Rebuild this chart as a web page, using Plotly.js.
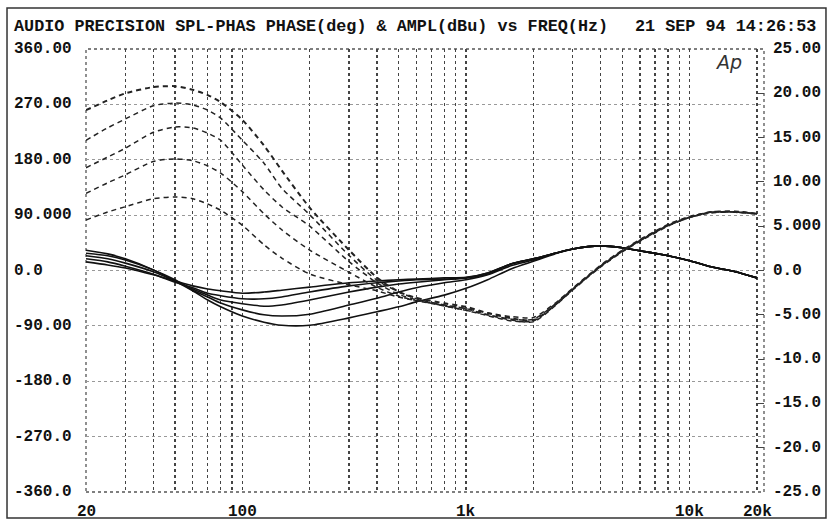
<!DOCTYPE html>
<html>
<head>
<meta charset="utf-8">
<script src="https://cdn.plot.ly/plotly-3.0.1.min.js"></script>
<style>
  html, body { margin: 0; padding: 0; background: #fff; }
  #chart { width: 829px; height: 520px; }
</style>
</head>
<body>
<div id="chart"></div>
<script>
// ---- data ----
const freqHz = [20,25,30,40,50,60,70,80,100,125,150,200,300,400,500,600,800,1000,1250,1600,2000,2500,3000,4000,5000,6000,8000,10000,12500,16000,20000];

// phase curves (deg, left axis) - solid
const phase1 = [33,27,19,1,-17,-33,-48,-59,-74,-84,-89,-89,-77,-67,-59,-51,-40,-29,-15,3,15,27,35,40,37,32,24,16,6,-2,-12];
const phase2 = [28,24,17,1,-15,-32,-43,-53,-64,-72,-74,-71,-56,-45,-35,-28,-20,-15,-7,8,17,28,35,40,37,32,24,16,6,-2,-12];
const phase3 = [24,19,12,-2,-17,-30,-40,-48,-54,-58,-56,-48,-35,-27,-22,-19,-15,-12,-6,11,19,28,35,40,37,32,24,16,6,-2,-12];
const phase4 = [19,14,7,-6,-19,-28,-37,-41,-46,-46,-43,-35,-25,-20,-17,-15,-14,-12,-4,11,19,28,35,40,37,32,24,16,6,-2,-12];
const phase5 = [14,9,4,-7,-17,-25,-30,-33,-37,-35,-32,-27,-20,-17,-15,-14,-12,-11,-4,11,19,28,35,40,37,32,24,16,6,-2,-12];

// amplitude curves (dBu, right axis) - dashed
const ampl1 = [18.1,19.2,20.0,20.7,20.8,20.4,19.8,19.0,17.0,14.1,11.3,7.1,2.3,-0.8,-2.4,-3.1,-3.7,-4.1,-4.8,-5.4,-5.6,-3.9,-2.1,0.5,2.2,3.4,5.1,6.0,6.6,6.6,6.4];
const ampl2 = [14.7,16.1,17.1,18.6,18.9,18.7,18.1,17.2,14.7,12.1,9.3,6.3,1.7,-1.1,-2.4,-3.2,-3.9,-4.3,-5.0,-5.6,-5.8,-4.0,-2.2,0.4,2.1,3.3,5.0,6.0,6.5,6.6,6.4];
const ampl3 = [11.6,12.8,13.8,15.6,16.2,16.1,15.5,14.7,11.9,9.1,7.2,5.0,1.0,-1.4,-2.7,-3.3,-4.0,-4.5,-5.1,-5.7,-5.7,-3.9,-2.1,0.5,2.2,3.4,5.1,6.0,6.6,6.6,6.4];
const ampl4 = [8.7,9.9,10.8,12.3,12.6,12.4,11.8,11.0,8.9,6.4,4.6,2.3,-0.2,-1.9,-2.9,-3.4,-4.0,-4.5,-5.0,-5.5,-5.5,-3.8,-2.1,0.5,2.2,3.4,5.1,6.0,6.6,6.6,6.4];
const ampl5 = [5.7,6.6,7.2,8.1,8.3,8.1,7.5,6.8,5.1,2.9,1.4,-0.4,-1.6,-2.3,-3.0,-3.4,-3.9,-4.3,-4.8,-5.2,-5.3,-3.7,-2.0,0.6,2.3,3.5,5.2,6.1,6.6,6.7,6.4];

// axes / ticks
const gridFreqs = [20,30,40,50,60,70,80,90,100,200,300,400,500,600,700,800,900,1000,2000,3000,4000,5000,6000,7000,8000,9000,10000,20000];
const xTickVals = [20,100,1000,10000,20000];
const xTickText = ["20","100","1k","10k","20k"];
const leftTickVals = [360,270,180,90,0,-90,-180,-270,-360];
const leftTickText = ["360.00","270.00","180.00","90.000","0.0","-90.00","-180.0","-270.0","-360.0"];
const rightTickVals = [25,20,15,10,5,0,-5,-10,-15,-20,-25];
const rightTickText = ["25.00","20.00","15.00","10.00","5.000","0.0","-5.00","-10.0","-15.0","-20.0","-25.0"];
const titleLeft = "AUDIO PRECISION SPL-PHAS PHASE(deg) & AMPL(dBu) vs FREQ(Hz)";
const titleRight = "21 SEP 94 14:26:53";

// ---- build ----
const phases = [phase1, phase2, phase3, phase4, phase5];
const ampls = [ampl1, ampl2, ampl3, ampl4, ampl5];
const traces = [];
phases.forEach((p, i) => {
  traces.push({
    x: freqHz, y: p, type: 'scatter', mode: 'lines', yaxis: 'y',
    line: {color: '#111', width: 1.6, shape: 'spline', smoothing: 0.7},
    hoverinfo: 'skip', name: 'phase ' + (i + 1)
  });
});
ampls.forEach((a, i) => {
  traces.push({
    x: freqHz, y: a, type: 'scatter', mode: 'lines', yaxis: 'y2',
    line: {color: '#222', width: i === 0 ? 2 : 1.5, dash: '5px,4px', shape: 'spline', smoothing: 0.7},
    hoverinfo: 'skip', name: 'ampl ' + (i + 1)
  });
});

const monoFont = 'Liberation Mono, DejaVu Sans Mono, monospace';
const tickFont = {family: monoFont, size: 16, color: '#111', weight: 'bold'};
const titleFont = {family: monoFont, size: 16.8, color: '#111', weight: 'bold'};
const annotations = [];
leftTickVals.forEach((v, i) => annotations.push({
  xref: 'paper', yref: 'y', x: -0.1091, y: v, xanchor: 'left', yanchor: 'middle',
  text: leftTickText[i], showarrow: false, font: tickFont
}));
rightTickVals.forEach((v, i) => annotations.push({
  xref: 'paper', yref: 'y2', x: 1.0103, y: v, xanchor: 'left', yanchor: 'middle',
  text: rightTickText[i], showarrow: false, font: tickFont
}));
xTickVals.forEach((v, i) => annotations.push({
  xref: 'x', yref: 'paper', x: Math.log10(v), y: -0.045, xanchor: 'center', yanchor: 'middle',
  text: xTickText[i], showarrow: false, font: tickFont
}));
annotations.push({
  xref: 'paper', yref: 'paper', x: -0.1091, y: 1.0497, xanchor: 'left', yanchor: 'middle',
  text: titleLeft, showarrow: false, font: titleFont
});
annotations.push({
  xref: 'paper', yref: 'paper', x: 1.0796, y: 1.0497, xanchor: 'right', yanchor: 'middle',
  text: titleRight, showarrow: false, font: titleFont
});
annotations.push({
  xref: 'paper', yref: 'paper', x: 0.948, y: 0.971, xanchor: 'center', yanchor: 'middle',
  text: 'Ap', showarrow: false,
  font: {family: 'DejaVu Sans, sans-serif', size: 19, color: '#333', style: 'italic'}
});

const layout = {
  width: 829, height: 520,
  margin: {l: 86, r: 65, t: 49, b: 28, pad: 0},
  paper_bgcolor: '#fff', plot_bgcolor: '#fff',
  showlegend: false,
  xaxis: {
    type: 'log', range: [1.3010, 4.3323],
    tickmode: 'array', tickvals: gridFreqs, showticklabels: false, ticks: '',
    showgrid: true, gridcolor: '#444', griddash: 'dot', gridwidth: 1.3,
    zeroline: false, showline: false, fixedrange: true
  },
  yaxis: {
    range: [-360, 360], tickmode: 'array', tickvals: leftTickVals, showticklabels: false, ticks: '',
    showgrid: true, gridcolor: '#999', griddash: 'dot', gridwidth: 1,
    zeroline: false, showline: false, fixedrange: true
  },
  yaxis2: {
    overlaying: 'y', side: 'right', anchor: 'x', range: [-25, 25],
    tickmode: 'array', tickvals: rightTickVals, showticklabels: false,
    ticks: 'inside', ticklen: 6, tickwidth: 1, tickcolor: '#444',
    showgrid: false, zeroline: false, showline: false, fixedrange: true
  },
  shapes: [
    {type: 'rect', xref: 'paper', yref: 'paper', x0: 0, x1: 1, y0: 0, y1: 1,
     line: {color: '#555', width: 1.3, dash: 'dot'}, layer: 'below'},
    {type: 'rect', xref: 'paper', yref: 'paper', x0: -0.1165, x1: 1.0914, y0: -0.0587, y1: 1.0926,
     line: {color: '#333', width: 1.5}, layer: 'below'}
  ],
  annotations: annotations
};

Plotly.newPlot('chart', traces, layout, {staticPlot: true, displayModeBar: false});
</script>
</body>
</html>
